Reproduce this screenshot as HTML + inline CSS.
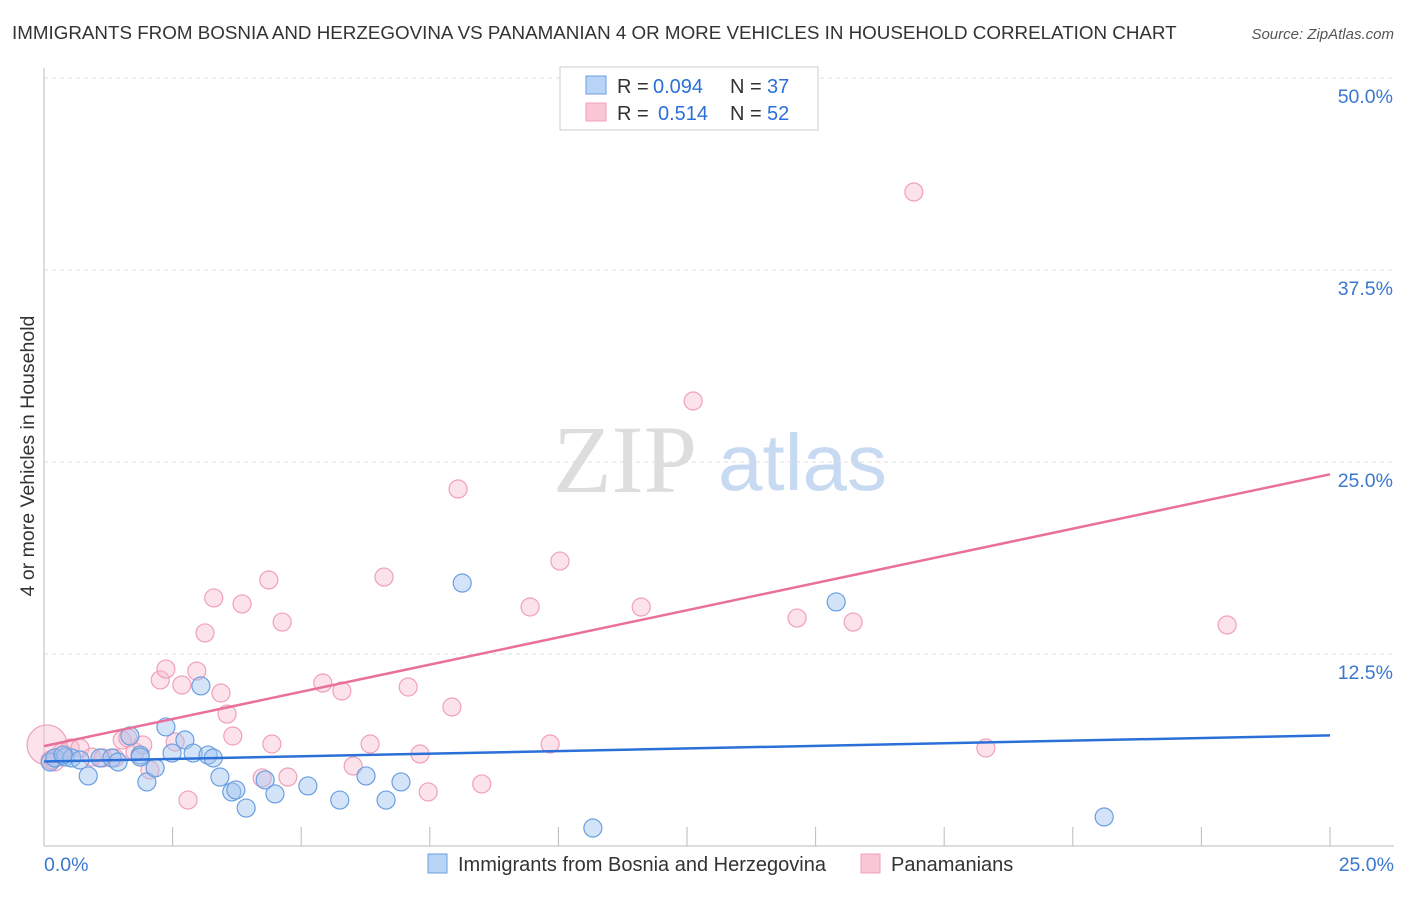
<!DOCTYPE html>
<html><head><meta charset="utf-8"><style>
body{margin:0;background:#fff;font-family:"Liberation Sans",sans-serif;}
svg text{font-family:"Liberation Sans",sans-serif;}
</style></head><body>
<svg id="chart" width="1406" height="892" viewBox="0 0 1406 892" xmlns="http://www.w3.org/2000/svg">
<text x="12" y="39" font-size="18.8" fill="#333">IMMIGRANTS FROM BOSNIA AND HERZEGOVINA VS PANAMANIAN 4 OR MORE VEHICLES IN HOUSEHOLD CORRELATION CHART</text>
<text x="1394" y="39" font-size="15" fill="#555" font-style="italic" text-anchor="end">Source: ZipAtlas.com</text>
<text transform="translate(34,456) rotate(-90)" font-size="19.5" fill="#333" text-anchor="middle">4 or more Vehicles in Household</text>
<text x="553" y="492" font-size="96" fill="#ddd" style="font-family:'Liberation Serif',serif">ZIP</text>
<text x="718" y="490" font-size="80" fill="#c8daf2">atlas</text>
<g id="grid"></g><g id="axes"></g><g id="pts"></g><g id="lines"></g>
<g>
<rect x="560" y="67" width="258" height="63" fill="#fff" stroke="#ccc"/>
<rect x="586" y="76" width="20" height="18" fill="#b8d4f6" stroke="#6a9fe0"/>
<rect x="586" y="103" width="20" height="18" fill="#f9c6d6" stroke="#f0a0b8"/>
<text x="617" y="93" font-size="20" fill="#333">R =</text>
<text x="653" y="93" font-size="20" fill="#2a70d8">0.094</text>
<text x="730" y="93" font-size="20" fill="#333">N =</text>
<text x="767" y="93" font-size="20" fill="#2a70d8">37</text>
<text x="617" y="120" font-size="20" fill="#333">R =</text>
<text x="658" y="120" font-size="20" fill="#2a70d8">0.514</text>
<text x="730" y="120" font-size="20" fill="#333">N =</text>
<text x="767" y="120" font-size="20" fill="#2a70d8">52</text>
</g>
<g>
<rect x="428" y="854" width="19" height="19" fill="#b8d4f6" stroke="#6a9fe0"/>
<text x="458" y="871" font-size="20" fill="#333">Immigrants from Bosnia and Herzegovina</text>
<rect x="861" y="854" width="19" height="19" fill="#f9c6d6" stroke="#f0a0b8"/>
<text x="891" y="871" font-size="20" fill="#333">Panamanians</text>
</g>
</svg>
<script>
const blueX=[0.12,0.21,0.41,0.54,0.70,0.86,1.09,1.32,1.44,1.67,1.87,2.0,2.16,2.37,2.49,2.74,2.9,3.05,3.19,3.29,3.42,3.65,3.73,3.93,4.3,4.49,5.13,5.75,6.26,6.65,6.94,8.13,10.67,15.4,20.61,0.37,1.87];
const blueY=[5.47,5.73,5.79,5.73,5.6,4.56,5.73,5.73,5.47,7.16,5.92,4.17,5.08,7.75,6.05,6.9,6.05,10.42,5.92,5.73,4.49,3.52,3.65,2.47,4.3,3.39,3.91,2.99,4.56,2.99,4.17,17.12,1.17,15.89,1.89,5.92,5.79];
const pinkX=[0.06,0.21,0.35,0.51,0.7,0.93,1.15,1.38,1.52,1.63,1.77,1.92,2.06,2.26,2.37,2.55,2.68,2.8,2.97,3.13,3.3,3.44,3.56,3.67,3.85,4.24,4.37,4.43,4.63,4.74,5.42,5.79,6.01,6.34,6.61,7.08,7.31,7.47,7.93,8.05,8.51,9.45,9.84,10.03,11.61,12.62,14.64,15.73,16.91,18.31,23.0,0.12];
const pinkY=[6.58,5.47,6.12,6.38,6.38,5.79,5.73,5.73,6.9,7.03,6.12,6.58,4.95,10.81,11.52,6.77,10.48,2.99,11.39,13.87,16.15,9.96,8.59,7.16,15.76,4.43,17.32,6.64,14.58,4.49,10.61,10.09,5.21,6.64,17.51,10.35,5.99,3.52,9.05,23.24,4.04,15.56,6.64,18.55,15.56,28.97,14.84,14.58,42.58,6.38,14.39,5.6];
const blueLine=[5.5,7.2];
const pinkLine=[6.5,24.2];
const yTicks=[12.5,25,37.5,50];
const yTickLabels=["12.5%","25.0%","37.5%","50.0%"];
const xTicks=[2.5,5,7.5,10,12.5,15,17.5,20,22.5,25];
const NS="http://www.w3.org/2000/svg";
const sx=v=>44+v*51.44, sy=v=>846-v*15.36;
function mk(tag,attrs,parent){const e=document.createElementNS(NS,tag);for(const k in attrs)e.setAttribute(k,attrs[k]);document.getElementById(parent).appendChild(e);return e;}
yTicks.forEach((t,i)=>{
 const g=mk('line',{x1:44,x2:1394,y1:sy(t),y2:sy(t),stroke:'#ddd','stroke-dasharray':'4,4'},'grid');
 
 
 const tx=mk('text',{x:1393,y:sy(t)+25,'font-size':19.5,fill:'#3a78d0','text-anchor':'end'},'axes');
 tx.textContent=yTickLabels[i];
 
 
});
let a=mk('line',{x1:44,x2:44,y1:68,y2:846,stroke:'#bbb'},'axes');


a=mk('line',{x1:44,x2:1394,y1:846,y2:846,stroke:'#bbb'},'axes');


xTicks.forEach(t=>{const l=mk('line',{x1:sx(t),x2:sx(t),y1:827,y2:846,stroke:'#bbb'},'axes');
 
 });
let t0=mk('text',{x:44,y:871,'font-size':19.5,fill:'#3a78d0'},'axes');t0.textContent='0.0%';


let t1=mk('text',{x:1394,y:871,'font-size':19.5,fill:'#3a78d0','text-anchor':'end'},'axes');t1.textContent='25.0%';


pinkX.forEach((x,i)=>{const c=mk('circle',{cx:sx(x),cy:sy(pinkY[i]),r:i===0?20:9,fill:'rgba(248,184,204,0.4)',stroke:'#f0a0b8','stroke-width':1.2},'pts');
 
 });
blueX.forEach((x,i)=>{const c=mk('circle',{cx:sx(x),cy:sy(blueY[i]),r:9,fill:'rgba(160,196,240,0.45)',stroke:'#6a9fe0','stroke-width':1.2},'pts');
 
 });
let bl=mk('line',{x1:sx(0),y1:sy(blueLine[0]),x2:sx(25),y2:sy(blueLine[1]),stroke:'#2a70d8','stroke-width':2.5},'lines');


let pl=mk('line',{x1:sx(0),y1:sy(pinkLine[0]),x2:sx(25),y2:sy(pinkLine[1]),stroke:'#e8709a','stroke-width':2.5},'lines');


</script>
</body></html>
